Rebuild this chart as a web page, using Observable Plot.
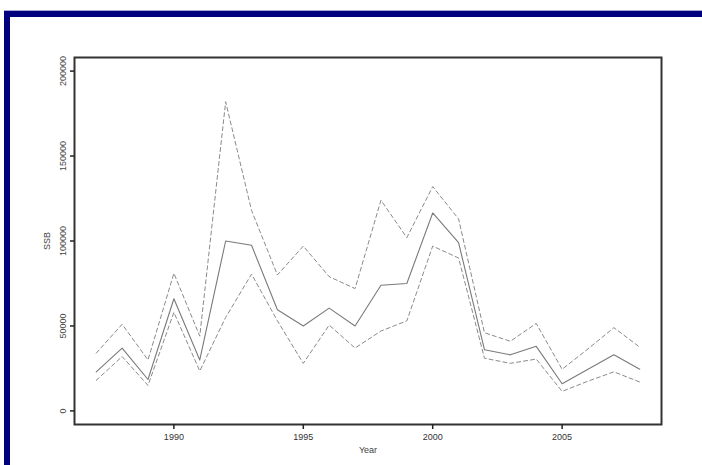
<!DOCTYPE html>
<html>
<head>
<meta charset="utf-8">
<script src="https://cdn.jsdelivr.net/npm/d3@7"></script>
<script src="https://cdn.jsdelivr.net/npm/@observablehq/plot@0.6"></script>
<style>
  html, body { margin: 0; padding: 0; background: #fff; }
  #wrap { position: relative; width: 702px; height: 465px; overflow: hidden; }
  #chart { position: absolute; left: 0; top: 0; }
  .bar { position: absolute; background: #00007f; }
  .lite { position: absolute; background: #a9a9d6; }
</style>
</head>
<body>
<div id="wrap">
  <div id="chart"></div>
  <div class="lite" style="left:4px; top:10px; width:698px; height:1px;"></div>
  <div class="bar" style="left:4px; top:11px; width:698px; height:6px;"></div>
  <div class="bar" style="left:4px; top:11px; width:6px; height:454px;"></div>
</div>
<script>
const years = [1987, 1988, 1989, 1990, 1991, 1992, 1993, 1994, 1995, 1996, 1997,
               1998, 1999, 2000, 2001, 2002, 2003, 2004, 2005, 2006, 2007, 2008];
const ssb   = [23000, 37000, 18500, 66000, 30000, 100000, 97500, 59500, 50000, 60500, 50000,
               74000, 75000, 116500, 99000, 36000, 33000, 38000, 16000, 24500, 33000, 24500];
const upper = [34000, 51000, 30000, 81000, 44000, 182000, 118000, 80000, 97000, 79000, 72000,
               124000, 102000, 132000, 113000, 46000, 41000, 51500, 24500, 36500, 49000, 37500];
const lower = [18000, 32000, 15000, 58000, 23500, 55000, 80500, 53000, 28000, 50500, 37000,
               47000, 53000, 97000, 90000, 31000, 28000, 30500, 11500, 17500, 23000, 17000];
const xTicks = [1990, 1995, 2000, 2005];
const yTicks = [0, 50000, 100000, 150000, 200000];
const xLabel = "Year";
const yLabel = "SSB";

const rows = years.map((y, i) => ({year: y, ssb: ssb[i], upper: upper[i], lower: lower[i]}));
const font = "Liberation Sans, Arial, sans-serif";

const chart = Plot.plot({
  width: 702,
  height: 465,
  marginLeft: 74,
  marginRight: 41,
  marginTop: 57,
  marginBottom: 41,
  style: {fontFamily: font, fontSize: "9px", color: "#333", background: "transparent"},
  x: {domain: [1986.16, 2008.84]},
  y: {domain: [-8000, 208000]},
  marks: [
    Plot.line(rows, {x: "year", y: "upper", stroke: "#8a8a8a", strokeWidth: 1, strokeDasharray: "4,3"}),
    Plot.line(rows, {x: "year", y: "lower", stroke: "#8a8a8a", strokeWidth: 1, strokeDasharray: "4,3"}),
    Plot.line(rows, {x: "year", y: "ssb", stroke: "#7a7a7a", strokeWidth: 1.1}),
    Plot.frame({stroke: "#333", strokeWidth: 2}),
    Plot.axisX({ticks: xTicks, tickSize: 5, tickPadding: 4, tickFormat: d => String(d), label: null, stroke: "#222", strokeWidth: 1.5}),
    Plot.axisY({ticks: yTicks, tickSize: 4, tickFormat: () => "", label: null, stroke: "#222", strokeWidth: 1.5}),
    Plot.text(yTicks, {y: d => d, text: d => String(d), frameAnchor: "left", dx: -11, rotate: -90, textAnchor: "middle", fill: "#444"}),
    Plot.text([yLabel], {frameAnchor: "left", dx: -27, rotate: -90, textAnchor: "middle", fill: "#444"}),
    Plot.text([xLabel], {frameAnchor: "bottom", dy: 28, fill: "#444"})
  ]
});
document.getElementById("chart").appendChild(chart);
</script>
</body>
</html>
